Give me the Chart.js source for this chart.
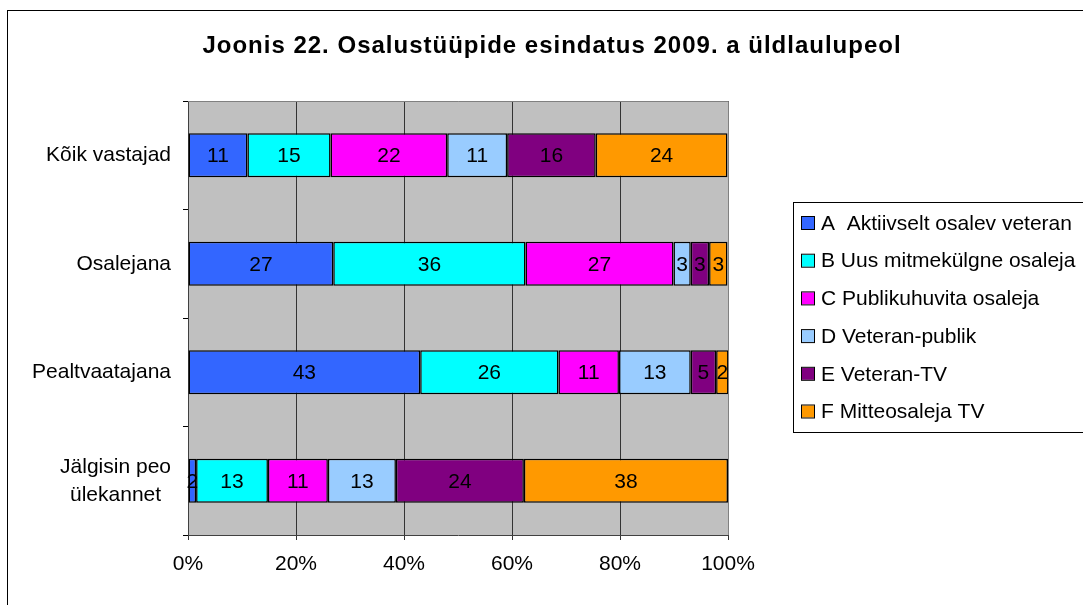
<!DOCTYPE html>
<html>
<head>
<meta charset="utf-8">
<script src="https://cdn.jsdelivr.net/npm/chart.js@4.4.1/dist/chart.umd.min.js"></script>
<style>
  html, body { margin: 0; padding: 0; background: #fff; }
  #wrap { width: 1083px; height: 605px; }
</style>
</head>
<body>
<div id="wrap"><canvas id="chart" width="1083" height="605"></canvas></div>
<script>
// Joonis 22 — osalustüüpide esindatus, 100% stacked bars
const TITLE = 'Joonis 22. Osalustüüpide esindatus 2009. a üldlaulupeol';

const categories = [
  ['Kõik vastajad'],
  ['Osalejana'],
  ['Pealtvaatajana'],
  ['Jälgisin peo', 'ülekannet'],
];

const seriesNames = [
  'A  Aktiivselt osalev veteran',
  'B Uus mitmekülgne osaleja',
  'C Publikuhuvita osaleja',
  'D Veteran-publik',
  'E Veteran-TV',
  'F Mitteosaleja TV',
];

const seriesColors = ['#3366FF', '#00FFFF', '#FF00FF', '#99CCFF', '#800080', '#FF9900'];

// shares in %, one value per category
const typeA = [11.0, 26.9, 43.0, 1.5];
const typeB = [15.4, 35.6, 25.6, 13.3];
const typeC = [21.6, 27.4, 11.2, 11.1];
const typeD = [11.1, 3.2, 13.3, 12.6];
const typeE = [16.4, 3.4, 4.7, 23.7];
const typeF = [24.4, 3.4, 2.3, 37.8];

const xTicks = [0, 20, 40, 60, 80, 100];

const seriesValues = [typeA, typeB, typeC, typeD, typeE, typeF];

const FONT = '"Liberation Sans", Arial, sans-serif';

const decor = {
  id: 'decor',
  beforeDraw(chart) {
    const { ctx, chartArea: a } = chart;
    ctx.save();
    ctx.fillStyle = '#fff';
    ctx.fillRect(0, 0, chart.width, chart.height);
    ctx.strokeStyle = '#000';
    ctx.lineWidth = 1;
    ctx.strokeRect(7.5, 10.5, chart.width + 10, chart.height + 10);
    ctx.fillStyle = '#C0C0C0';
    ctx.fillRect(a.left, a.top, a.right - a.left, a.bottom - a.top);
    ctx.restore();
  },
  beforeDatasetsDraw(chart) {
    const { ctx, chartArea: a } = chart;
    ctx.save();
    ctx.strokeStyle = '#808080';
    ctx.lineWidth = 1;
    ctx.beginPath();
    ctx.moveTo(a.left, a.top + 0.5);
    ctx.lineTo(a.right + 0.5, a.top + 0.5);
    ctx.lineTo(a.right + 0.5, a.bottom);
    ctx.stroke();
    ctx.restore();
  },
  afterDraw(chart) {
    const { ctx } = chart;
    ctx.save();

    // values inside the segments
    ctx.fillStyle = '#000';
    ctx.font = '21px ' + FONT;
    ctx.textAlign = 'center';
    ctx.textBaseline = 'middle';
    chart.data.datasets.forEach((ds, i) => {
      chart.getDatasetMeta(i).data.forEach((bar, j) => {
        ctx.fillText(String(Math.round(ds.data[j])), (bar.x + bar.base) / 2, bar.y + 1);
      });
    });

    // category labels
    const yScale = chart.scales.y;
    categories.forEach((lines, j) => {
      const cy = yScale.getPixelForValue(j);
      const w = Math.max(...lines.map((l) => ctx.measureText(l).width));
      const cx = 171 - w / 2;
      const lh = 28;
      lines.forEach((l, k) => {
        ctx.fillText(l, cx, cy + (k - (lines.length - 1) / 2) * lh);
      });
    });

    // legend
    ctx.strokeStyle = '#000';
    ctx.lineWidth = 1;
    ctx.strokeRect(793.5, 202.5, 400, 230);
    ctx.font = '21px ' + FONT;
    ctx.textAlign = 'left';
    chart.data.datasets.forEach((ds, i) => {
      const y = 223 + i * 37.7;
      ctx.fillStyle = ds.backgroundColor;
      ctx.fillRect(802, y - 6, 12, 12);
      ctx.strokeRect(801.5, y - 6.5, 13, 13);
      ctx.fillStyle = '#000';
      ctx.fillText(ds.label, 821, y + 1);
    });

    // title
    ctx.font = 'bold 24px ' + FONT;
    ctx.textAlign = 'center';
    ctx.letterSpacing = '1px';
    ctx.fillText(TITLE, 552, 46);
    ctx.restore();
  },
};

new Chart(document.getElementById('chart'), {
  type: 'bar',
  data: {
    labels: categories,
    datasets: seriesValues.map((vals, i) => ({
      label: seriesNames[i],
      data: vals,
      backgroundColor: seriesColors[i],
      borderColor: '#000',
      borderWidth: 1.5,
      borderSkipped: false,
      categoryPercentage: 1,
      barPercentage: 0.405,
    })),
  },
  options: {
    indexAxis: 'y',
    responsive: false,
    animation: false,
    layout: { padding: { left: 0, top: 101, right: 355, bottom: 0 } },
    plugins: {
      legend: { display: false },
      title: { display: false },
      tooltip: { enabled: false },
    },
    scales: {
      x: {
        stacked: true,
        min: 0,
        max: 100,
        afterBuildTicks: (s) => { s.ticks = xTicks.map((v) => ({ value: v })); },
        afterFit: (s) => { s.height = 70; },
        border: { color: '#404040', width: 1 },
        grid: { color: '#333', lineWidth: 1, tickLength: 5 },
        ticks: {
          padding: 12,
          color: '#000',
          font: { family: FONT, size: 21 },
          callback: (v) => v + '%',
        },
      },
      y: {
        stacked: true,
        afterFit: (s) => { s.width = 188; },
        border: { color: '#404040', width: 1 },
        grid: { offset: true, drawOnChartArea: false, color: '#000', tickLength: 5 },
        ticks: { display: false },
      },
    },
  },
  plugins: [decor],
});
</script>
</body>
</html>
